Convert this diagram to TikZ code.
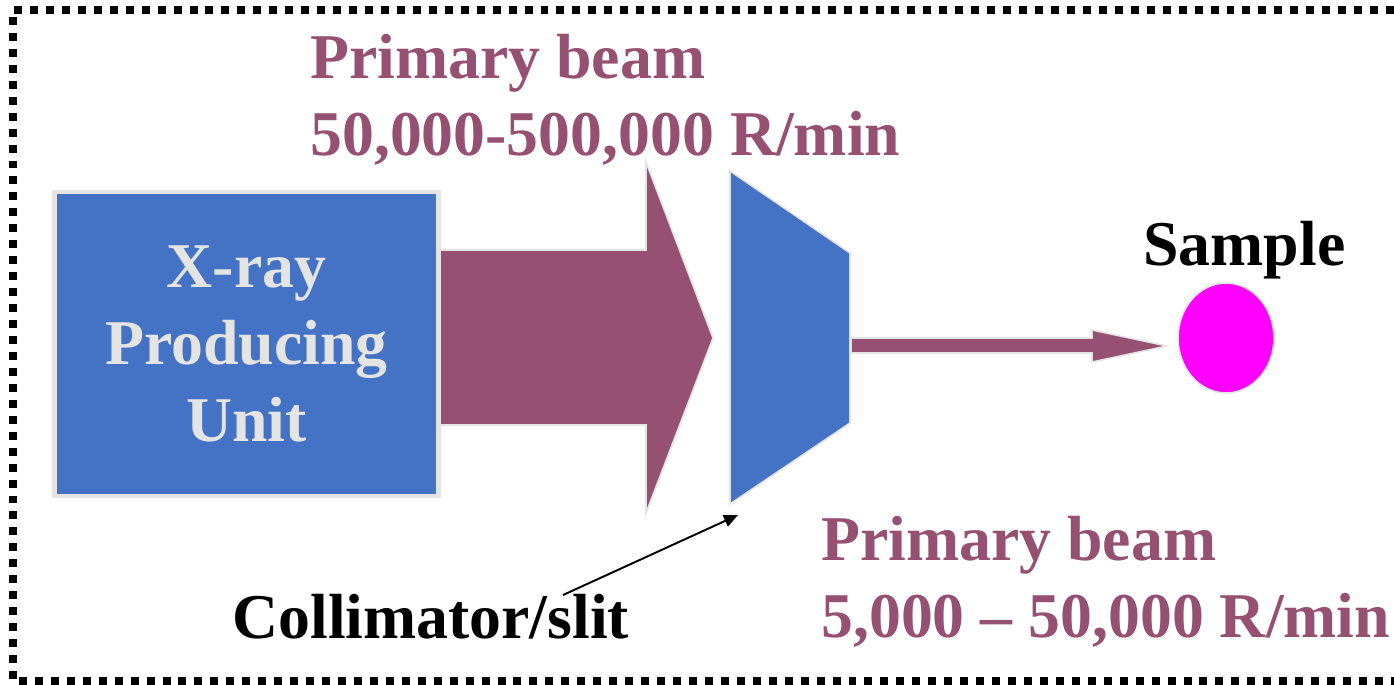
\documentclass[tikz,border=0pt]{standalone}
\usepackage{fontspec}
\setmainfont{Liberation Serif}
\usetikzlibrary{arrows.meta,shapes.geometric}
\definecolor{beamcol}{RGB}{149,80,114}
\definecolor{unitblue}{RGB}{68,114,196}
\definecolor{edgegray}{RGB}{228,228,228}
\definecolor{samplecol}{RGB}{255,0,255}
\begin{document}
\begin{tikzpicture}[x=0.02cm, y=-0.02cm,
  bigtxt/.style={font=\fontsize{36.3}{43.7}\selectfont\bfseries, inner sep=0pt},
  beamtxt/.style={bigtxt, text=beamcol, align=left, anchor=base west},
  rim/.style={draw=edgegray, line width=0.9pt}]
\useasboundingbox (0,0) rectangle (1394,684);
% dotted frame, right side runs off the page
\draw[line width=4.54pt, dash pattern=on 4.54pt off 4.54pt] (1394,10) -- (13,10) -- (13,681) -- (1394,681);
% big beam
\filldraw[fill=beamcol, rim] (440,250) -- (646,250) -- (646,162) -- (713,338) -- (646,513) -- (646,425) -- (440,425) -- cycle;
% source
\node (unit) [fill=unitblue, draw=edgegray, line width=2.8pt, minimum width=7.68cm, minimum height=6.08cm,
  bigtxt, text=edgegray, align=center] at (246.5,344) {X-ray\\Producing\\Unit};
% collimator
\filldraw[fill=unitblue, rim] (730,171) -- (850,253) -- (850,423) -- (730,504) -- cycle;
% narrow beam
\filldraw[fill=beamcol, rim] (851,338) -- (1092,338) -- (1092,330) -- (1167,346) -- (1092,362) -- (1092,353) -- (851,353) -- cycle;
\node (sample) [ellipse, fill=samplecol, rim, minimum width=1.92cm, minimum height=2.2cm, inner sep=0pt] at (1226,338) {};
% labels (base = last line)
\node (toplbl) [beamtxt] at (310,155) {Primary beam\\50,000-500,000 R/min};
\node (botlbl) [beamtxt] at (821,637) {Primary beam\\5,000 – 50,000 R/min};
\node (samplelbl) [bigtxt, anchor=base west] at (1143,265) {Sample};
\node (slitlbl) [bigtxt, anchor=base west] at (232,638) {Collimator/slit};
\coordinate (ptrstart) at (563,595);
\coordinate (ptrend) at (738,515);
\draw[line width=1.1pt, -{Triangle[length=8pt,width=7pt]}] (ptrstart) -- (ptrend);
\end{tikzpicture}
\end{document}
